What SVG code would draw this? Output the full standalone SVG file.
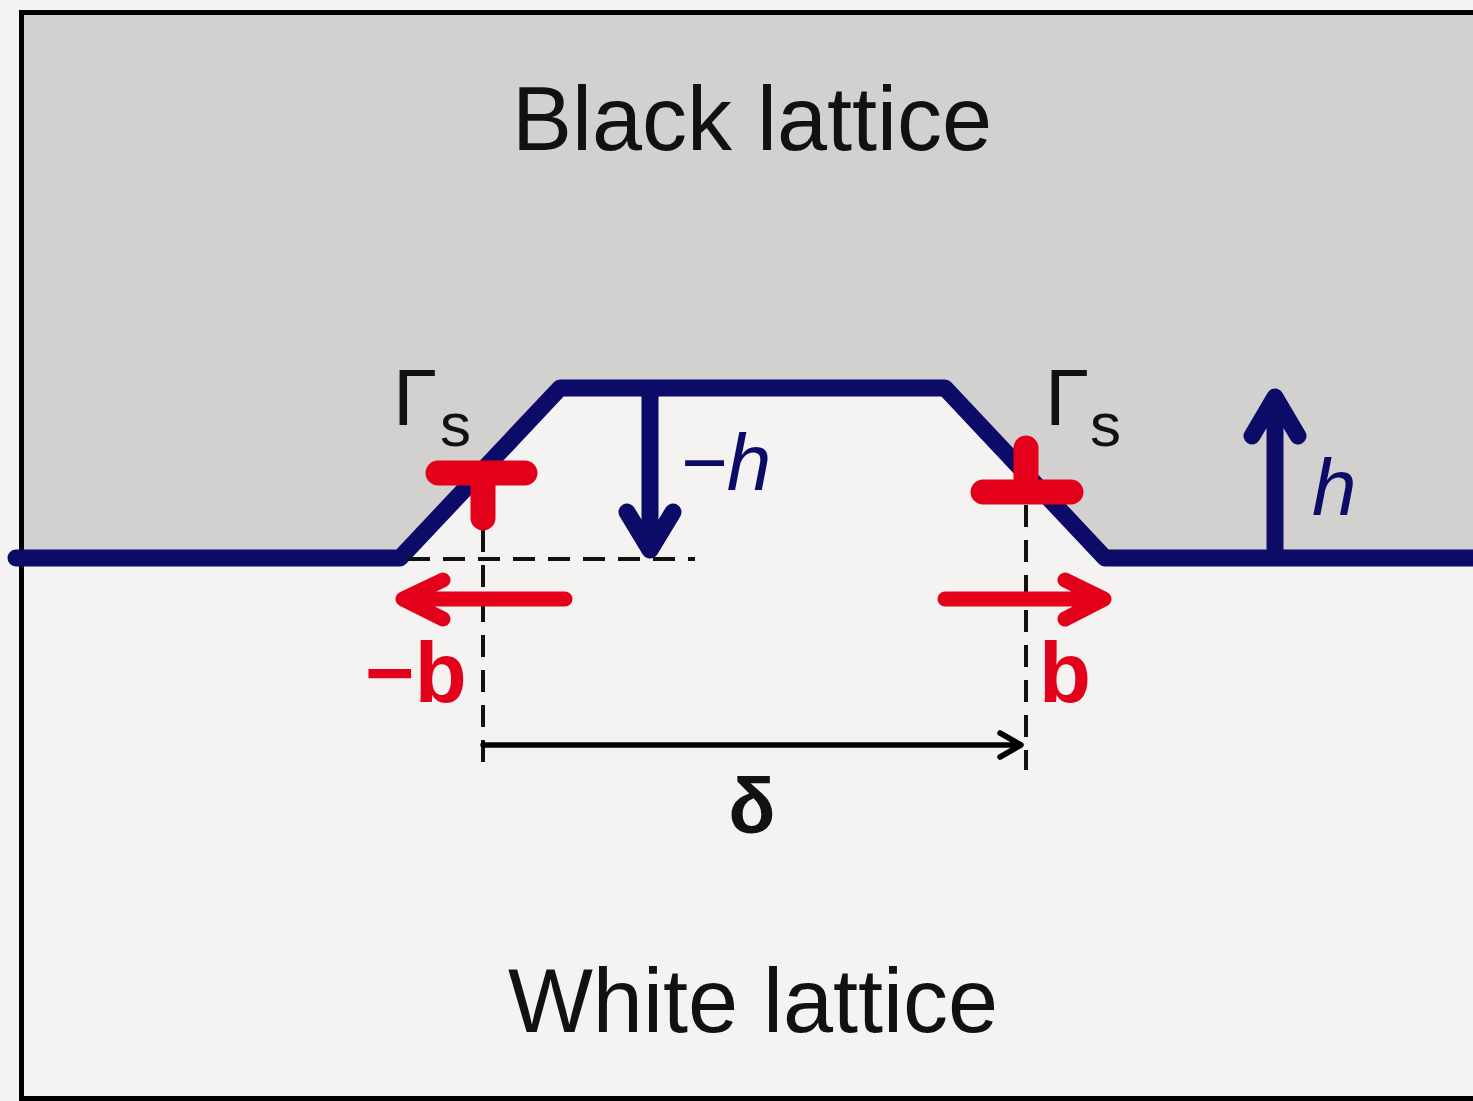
<svg xmlns="http://www.w3.org/2000/svg" width="1473" height="1101" viewBox="0 0 1473 1101">
<style>
.navy{stroke:#0c0c68;fill:none;stroke-width:17;stroke-linecap:round;stroke-linejoin:round}
.red{stroke:#e3001b;fill:none;stroke-linecap:round;stroke-linejoin:round}
.dash{stroke:#111;fill:none;stroke-width:4;stroke-dasharray:22 13}
.big{font-family:"Liberation Sans",Arial,sans-serif;font-size:90px;fill:#111;text-anchor:middle}
.lbl{font-family:"Liberation Sans",Arial,sans-serif}
</style>
<rect x="0" y="0" width="1473" height="1101" fill="#f4f3f1"/>
<g id="black-lattice">
<polygon points="22,13 1473,13 1473,558 1105,558 945,388 560,388 400,558 22,558" fill="#d2d1d0"/>
<text class="big" x="752" y="150">Black lattice</text>
</g>
<g id="white-lattice">
<text class="big" x="753" y="1032">White lattice</text>
</g>
<g id="frame" fill="none" stroke="#000" stroke-width="5">
<path d="M1473,12.5 H21.5 V1098.5 H1473"/>
</g>
<g id="interface">
<polyline class="navy" points="16,558 400,558 560,388 945,388 1105,558 1473,558"/>
</g>
<g id="connectors">
<path class="dash" d="M408,559 H695"/>
<path class="dash" d="M483,530 V770"/>
<path class="dash" d="M1026,505 V770"/>
<g id="arrow-minus-h">
<path class="navy" stroke-width="15" d="M650,392 V548 M627,512 L650,550 L673,512"/>
</g>
<g id="arrow-h">
<path class="navy" stroke-width="15" d="M1275,552 V398 M1252,436 L1275,397 L1298,436"/>
</g>
<g id="arrow-minus-b">
<path class="red" stroke-width="15" d="M565,599 H404 M443,580 L403,599 L443,619"/>
</g>
<g id="arrow-b">
<path class="red" stroke-width="15" d="M945,599 H1101 M1065,580 L1104,599 L1065,619"/>
</g>
<g id="arrow-delta">
<path fill="none" stroke="#000" stroke-width="5.5" stroke-linecap="round" stroke-linejoin="round" d="M483,745 H1019 M1000,733 L1021,745 L1000,757"/>
</g>
</g>
<g id="dislocation-left">
<path class="red" stroke-width="25" d="M438,473 H525 M483,473 V518"/>
<text class="lbl" x="393" y="425" font-size="80" fill="#111">Γ</text>
<text class="lbl" x="440" y="446" font-size="62" fill="#111">s</text>
</g>
<g id="dislocation-right">
<path class="red" stroke-width="25" d="M983,492 H1071 M1026,492 V448"/>
<text class="lbl" x="1045" y="425" font-size="80" fill="#111">Γ</text>
<text class="lbl" x="1090" y="446" font-size="62" fill="#111">s</text>
</g>
<g id="labels">
<text class="lbl" x="680" y="490" font-size="80" font-style="italic" fill="#0c0c68">−h</text>
<text class="lbl" x="1312" y="515" font-size="80" font-style="italic" fill="#0c0c68">h</text>
<text class="lbl" x="365" y="702" font-size="85" font-weight="bold" fill="#e3001b">−b</text>
<text class="lbl" x="1039" y="702" font-size="85" font-weight="bold" fill="#e3001b">b</text>
<text class="lbl" x="752" y="833" font-size="78" font-weight="bold" fill="#111" text-anchor="middle">δ</text>
</g>
</svg>
